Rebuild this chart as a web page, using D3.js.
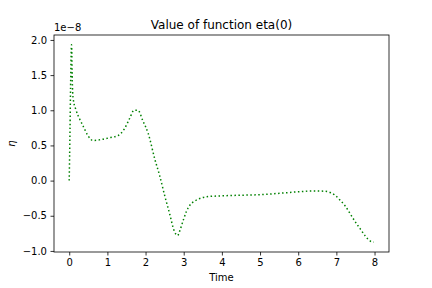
<!DOCTYPE html>
<html>
<meta charset="utf-8">
<style>
  body { margin: 0; padding: 0; background: #fff; }
  text { font-family: "DejaVu Sans", sans-serif; fill: #000; }
  .tick text { font-size: 10px; }
  .title { font-size: 12px; }
</style>
<body>
<div id="chart"></div>
<script src="https://d3js.org/d3.v7.min.js"></script>
<script>
// time values and eta (units of 1e-8)
var times = [0, 0.02, 0.04, 0.06, 0.08, 0.1, 0.18, 0.27, 0.36, 0.49, 0.62, 0.8, 1.06, 1.28, 1.45, 1.58,
             1.70, 1.80, 1.93, 2.07, 2.24, 2.37, 2.5, 2.64, 2.74, 2.84, 2.9, 2.99, 3.07, 3.16, 3.29, 3.42,
             3.64, 3.95, 4.48, 5.0, 5.53, 5.97, 6.40, 6.66, 6.84, 6.97, 7.10, 7.23, 7.36, 7.50, 7.63, 7.76,
             7.89, 7.98];
var eta = [0, 0.7, 1.5, 1.93, 1.42, 1.18, 1.0, 0.88, 0.78, 0.64, 0.57, 0.58, 0.61, 0.64, 0.74, 0.88,
           1.0, 1.0, 0.85, 0.67, 0.31, 0.07, -0.21, -0.49, -0.70, -0.78, -0.71, -0.56, -0.44, -0.35, -0.29, -0.255,
           -0.227, -0.218, -0.208, -0.2, -0.18, -0.16, -0.147, -0.15, -0.17, -0.21, -0.28, -0.36, -0.47, -0.59, -0.69, -0.79,
           -0.86, -0.875];
var xTicks = [0, 1, 2, 3, 4, 5, 6, 7, 8];
var yTicks = [-1.0, -0.5, 0.0, 0.5, 1.0, 1.5, 2.0];

var W = 432, H = 288;
var margin = {top: 35, right: 43, bottom: 36, left: 54};
var width = W - margin.left - margin.right,
    height = H - margin.top - margin.bottom;

var svg = d3.select("#chart").append("svg")
    .attr("width", W).attr("height", H);
var g = svg.append("g")
    .attr("transform", "translate(" + margin.left + "," + margin.top + ")");

var data = times.map(function(t, i) { return {t: t, v: eta[i]}; });

// matplotlib-ish 5% margins
var xe = d3.extent(times), ye = d3.extent(eta);
var xp = (xe[1] - xe[0]) * 0.05, yp = (ye[1] - ye[0]) * 0.05;
var x = d3.scaleLinear().domain([xe[0] - xp, xe[1] + xp]).range([0, width]);
var y = d3.scaleLinear().domain([ye[0] - yp, ye[1] + yp]).range([height, 0]);

var xAxis = g.append("g")
    .attr("transform", "translate(0," + height + ")")
    .call(d3.axisBottom(x).tickValues(xTicks).tickFormat(d3.format("d")).tickSizeInner(3.5).tickSizeOuter(0).tickPadding(3.5));
var yAxis = g.append("g")
    .call(d3.axisLeft(y).tickValues(yTicks).tickFormat(d3.format(".1f")).tickSizeInner(3.5).tickSizeOuter(0).tickPadding(3.5));
[xAxis, yAxis].forEach(function(a) {
  a.select(".domain").remove();
  a.selectAll(".tick line").attr("stroke", "#000").attr("stroke-width", 0.8);
  a.selectAll(".tick text").attr("fill", "#000");
});

// the line
g.append("path")
    .datum(data)
    .attr("fill", "none")
    .attr("stroke", "#008000")
    .attr("stroke-width", 1.5)
    .attr("stroke-dasharray", "1.5,2.475")
    .attr("d", d3.line()
      .x(function(d) { return x(d.t); })
      .y(function(d) { return y(d.v); })
      .curve(d3.curveMonotoneX));

// frame
g.append("rect")
    .attr("width", width).attr("height", height)
    .attr("fill", "none").attr("stroke", "#000").attr("stroke-width", 0.8);

// texts
svg.append("text")
    .attr("class", "title")
    .attr("x", margin.left + width / 2).attr("y", margin.top - 6)
    .attr("text-anchor", "middle")
    .text("Value of function eta(0)");

svg.append("text")
    .attr("x", margin.left).attr("y", margin.top - 4)
    .style("font-size", "10px")
    .text("1e\u22128");

svg.append("text")
    .attr("x", margin.left + width / 2).attr("y", H - 7)
    .attr("text-anchor", "middle")
    .style("font-size", "10px")
    .text("Time");

svg.append("text")
    .attr("transform", "translate(15," + (margin.top + height / 2) + ") rotate(-90)")
    .attr("text-anchor", "middle")
    .style("font-size", "10px")
    .style("font-style", "italic")
    .text("\u03b7");
</script>
</body>
</html>
